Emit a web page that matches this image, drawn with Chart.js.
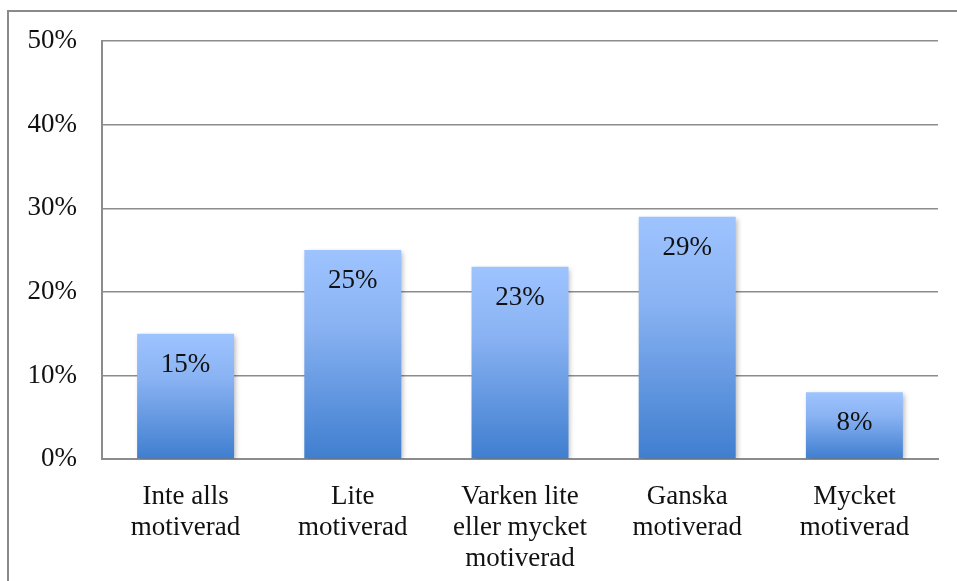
<!DOCTYPE html>
<html>
<head>
<meta charset="utf-8">
<script src="https://cdn.jsdelivr.net/npm/chart.js@4.4.1/dist/chart.umd.min.js"></script>
<style>
  html, body { margin: 0; padding: 0; background: #fff; }
  #wrap { width: 957px; height: 581px; position: relative; }
</style>
</head>
<body>
<div id="wrap"><canvas id="c" width="957" height="581"></canvas></div>
<script>
// categories and values (percent)
const categories = [
    ['Inte alls', 'motiverad'],
    ['Lite', 'motiverad'],
    ['Varken lite', 'eller mycket', 'motiverad'],
    ['Ganska', 'motiverad'],
    ['Mycket', 'motiverad']
];
const values = [15, 25, 23, 29, 8];
const yTicks = [0, 10, 20, 30, 40, 50];

const FONT = '"Liberation Serif", "Times New Roman", serif';
const GRID = '#8c8c8c';

// frame around the whole picture (left + top visible)
const framePlugin = {
    id: 'frame',
    beforeDraw(chart) {
        const ctx = chart.ctx;
        ctx.save();
        ctx.strokeStyle = '#8a8a8a';
        ctx.lineWidth = 2;
        ctx.strokeRect(8, 11, 1000, 700);
        ctx.restore();
    }
};

// soft shadow under the bars
const shadowPlugin = {
    id: 'barShadow',
    beforeDatasetsDraw(chart) {
        const ctx = chart.ctx;
        ctx.save();
        ctx.shadowColor = 'rgba(0,0,0,0.28)';
        ctx.shadowBlur = 5;
        ctx.shadowOffsetX = 2;
        ctx.shadowOffsetY = 2;
    },
    afterDatasetsDraw(chart) {
        chart.ctx.restore();
    }
};

// value labels inside the top of each bar
const labelPlugin = {
    id: 'valueLabels',
    afterDatasetsDraw(chart) {
        const ctx = chart.ctx;
        const meta = chart.getDatasetMeta(0);
        ctx.save();
        ctx.font = '27px ' + FONT;
        ctx.fillStyle = '#111';
        ctx.textAlign = 'center';
        ctx.textBaseline = 'middle';
        meta.data.forEach((bar, i) => {
            ctx.fillText(values[i] + '%', bar.x, bar.y + 31);
        });
        ctx.restore();
    }
};

function barGradient(context) {
    const chart = context.chart;
    const y = chart.scales && chart.scales.y;
    if (!y || context.dataIndex === undefined) return '#6a9fe6';
    const top = y.getPixelForValue(values[context.dataIndex]);
    const bottom = y.getPixelForValue(0);
    if (!isFinite(top) || !isFinite(bottom)) return '#6a9fe6';
    const g = chart.ctx.createLinearGradient(0, top, 0, bottom);
    g.addColorStop(0, '#9ec4ff');
    g.addColorStop(0.35, '#8ab3f3');
    g.addColorStop(1, '#3f7ecf');
    return g;
}

new Chart(document.getElementById('c'), {
    type: 'bar',
    data: {
        labels: categories,
        datasets: [{
            data: values,
            backgroundColor: barGradient,
            borderWidth: 0,
            categoryPercentage: 1,
            barPercentage: 0.58
        }]
    },
    options: {
        responsive: false,
        animation: false,
        layout: { padding: { top: 41, right: 19, left: 0, bottom: 0 } },
        plugins: {
            legend: { display: false },
            tooltip: { enabled: false }
        },
        scales: {
            x: {
                grid: { display: false, drawTicks: false },
                border: { display: true, color: GRID, width: 2 },
                ticks: {
                    color: '#111',
                    font: { family: FONT, size: 27, lineHeight: 1.15 },
                    padding: 22,
                    maxRotation: 0,
                    autoSkip: false
                },
                afterFit(scale) { scale.height = 122; }
            },
            y: {
                min: 0,
                max: 50,
                afterBuildTicks(scale) {
                    scale.ticks = yTicks.map(v => ({ value: v }));
                },
                grid: { color: GRID, lineWidth: 1.5, drawTicks: false },
                border: { display: true, color: GRID, width: 2 },
                ticks: {
                    color: '#111',
                    font: { family: FONT, size: 27 },
                    padding: 25,
                    callback: v => v + '%'
                },
                afterFit(scale) { scale.width = 102; }
            }
        }
    },
    plugins: [framePlugin, shadowPlugin, labelPlugin]
});
</script>
</body>
</html>
